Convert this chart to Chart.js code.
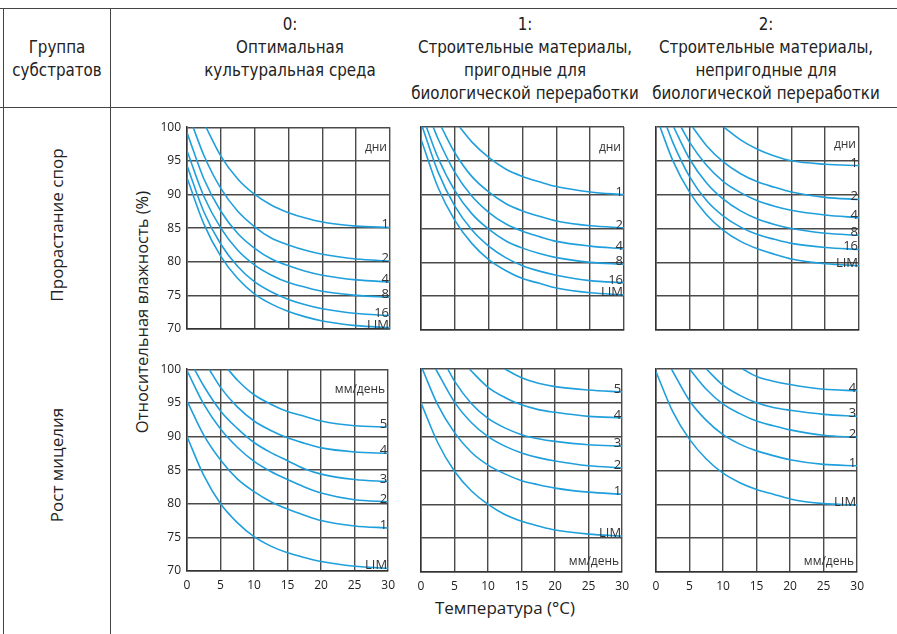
<!DOCTYPE html>
<html lang="ru">
<head>
<meta charset="utf-8">
<script src="https://cdn.jsdelivr.net/npm/chart.js@4.4.1/dist/chart.umd.min.js"></script>
<style>
  body { margin: 0; background: #fff; }
  #page { position: relative; width: 897px; height: 634px; overflow: hidden; background: #fff;
          font-family: 'Open Sans', 'Noto Sans', sans-serif; color: #222; }
  .hline { position: absolute; height: 0; border-top: 1px solid #444; }
  .vline { position: absolute; width: 0; border-left: 1px solid #444; }
  .txt { position: absolute; white-space: nowrap; transform: translate(-50%, -50%); }
  .head { font-family: 'DejaVu Sans Condensed', 'Liberation Sans Narrow', sans-serif; font-size: 16.8px; }
  .rot { transform: translate(-50%, -50%) rotate(-90deg); font-size: 17px; }
  canvas { position: absolute; }
</style>
</head>
<body>
<div id="page">
  <!-- table frame -->
  <div class="hline" style="left:0;top:8px;width:897px"></div>
  <div class="hline" style="left:0;top:107px;width:897px"></div>
  <div class="vline" style="left:3px;top:8px;height:626px"></div>
  <div class="vline" style="left:110px;top:8px;height:626px"></div>

  <!-- header -->
  <div class="txt head" style="left:57px;top:47px">Группа</div>
  <div class="txt head" style="left:57px;top:70px">субстратов</div>

  <div class="txt head" style="left:290px;top:24px">0:</div>
  <div class="txt head" style="left:290px;top:47px">Оптимальная</div>
  <div class="txt head" style="left:290px;top:70px">культуральная среда</div>

  <div class="txt head" style="left:525px;top:24px">1:</div>
  <div class="txt head" style="left:525px;top:47px">Строительные материалы,</div>
  <div class="txt head" style="left:525px;top:70px">пригодные для</div>
  <div class="txt head" style="left:525px;top:93px">биологической переработки</div>

  <div class="txt head" style="left:766px;top:24px">2:</div>
  <div class="txt head" style="left:766px;top:47px">Строительные материалы,</div>
  <div class="txt head" style="left:766px;top:70px">непригодные для</div>
  <div class="txt head" style="left:766px;top:93px">биологической переработки</div>

  <!-- row and axis titles -->
  <div class="txt rot" style="left:56px;top:225px">Прорастание спор</div>
  <div class="txt rot" style="left:56px;top:465px">Рост мицелия</div>
  <div class="txt rot" style="left:141px;top:312px;font-size:16.5px">Относительная влажность (%)</div>
  <div class="txt" style="left:505px;top:607px;font-size:17px">Температура (°C)</div>

  <canvas id="c1" width="255" height="240"></canvas>
  <canvas id="c2" width="255" height="240"></canvas>
  <canvas id="c3" width="255" height="240"></canvas>
  <canvas id="c4" width="255" height="240"></canvas>
  <canvas id="c5" width="255" height="240"></canvas>
  <canvas id="c6" width="255" height="240"></canvas>
</div>

<script>
// Оси
const tempTicks = [0, 5, 10, 15, 20, 25, 30];
const humTicks = [70, 75, 80, 85, 90, 95, 100];

// Прорастание спор, группа 0 (дни)
const spore0Labels = ['1', '2', '4', '8', '16', 'LIM'];
const spore0Temp = [
    [2.8, 5, 7.5, 10, 12.5, 15, 17.5, 20, 25, 30],
    [0.9, 2.5, 5, 7.5, 10, 12.5, 15, 17.5, 20, 25, 30],
    [0, 2.5, 5, 7.5, 10, 12.5, 15, 17.5, 20, 25, 30],
    [0, 2.5, 5, 7.5, 10, 12.5, 15, 17.5, 20, 25, 30],
    [0, 2.5, 5, 7.5, 10, 12.5, 15, 17.5, 20, 25, 30],
    [0, 2.5, 5, 7.5, 10, 12.5, 15, 17.5, 20, 25, 30]
];
const spore0Hum = [
    [100, 95.7, 92.3, 90.0, 88.4, 87.3, 86.5, 85.9, 85.3, 85.1],
    [100, 95.8, 90.9, 87.5, 85.2, 83.5, 82.5, 81.7, 81.1, 80.4, 80.1],
    [99.2, 92.3, 87.5, 84.2, 82.0, 80.4, 79.4, 78.6, 78.0, 77.3, 77.0],
    [96.5, 89.7, 85.0, 81.7, 79.5, 78.0, 76.9, 76.2, 75.6, 75.0, 74.7],
    [94.3, 87.4, 82.6, 79.3, 77.0, 75.5, 74.4, 73.6, 73.0, 72.3, 72.0],
    [92.5, 85.6, 80.8, 77.5, 75.2, 73.7, 72.6, 71.8, 71.2, 70.5, 70.2]
];

// Прорастание спор, группа 1 (дни)
const spore1Labels = ['1', '2', '4', '8', '16', 'LIM'];
const spore1Temp = [
    [5.7, 7.5, 10, 12.5, 15, 17.5, 20, 25, 30],
    [3.0, 5, 7.5, 10, 12.5, 15, 17.5, 20, 25, 30],
    [1.8, 2.5, 5, 7.5, 10, 12.5, 15, 17.5, 20, 25, 30],
    [0.8, 2.5, 5, 7.5, 10, 12.5, 15, 17.5, 20, 25, 30],
    [0.2, 2.5, 5, 7.5, 10, 12.5, 15, 17.5, 20, 25, 30],
    [0, 2.5, 5, 7.5, 10, 12.5, 15, 17.5, 20, 25, 30]
];
const spore1Hum = [
    [100, 97.8, 95.5, 93.8, 92.7, 91.9, 91.2, 90.4, 90.0],
    [100, 96.2, 92.7, 90.4, 88.7, 87.6, 86.8, 86.1, 85.4, 85.1],
    [100, 98.3, 93.3, 89.8, 87.4, 85.7, 84.6, 83.8, 83.1, 82.4, 82.0],
    [100, 95.5, 90.6, 87.2, 84.9, 83.2, 82.1, 81.3, 80.7, 80.0, 79.7],
    [100, 93.4, 88.3, 84.8, 82.4, 80.7, 79.5, 78.7, 78.1, 77.3, 77.0],
    [98.2, 91.1, 86.2, 82.8, 80.4, 78.8, 77.6, 76.9, 76.2, 75.5, 75.2]
];

// Прорастание спор, группа 2 (дни)
const spore2Labels = ['1', '2', '4', '8', '16', 'LIM'];
const spore2Temp = [
    [10, 12.5, 15, 17.5, 20, 25, 30],
    [5.4, 7.5, 10, 12.5, 15, 17.5, 20, 25, 30],
    [3.7, 5, 7.5, 10, 12.5, 15, 17.5, 20, 25, 30],
    [2.6, 5, 7.5, 10, 12.5, 15, 17.5, 20, 25, 30],
    [1.6, 2.5, 5, 7.5, 10, 12.5, 15, 17.5, 20, 25, 30],
    [0.6, 2.5, 5, 7.5, 10, 12.5, 15, 17.5, 20, 25, 30]
];
const spore2Hum = [
    [100, 98.1, 96.7, 95.7, 95.0, 94.5, 94.3],
    [100, 97.2, 94.8, 93.1, 91.9, 91.1, 90.4, 89.6, 89.3],
    [100, 97.7, 94.3, 91.9, 90.3, 89.1, 88.3, 87.7, 87.0, 86.6],
    [100, 95.2, 91.7, 89.3, 87.6, 86.4, 85.6, 85.0, 84.3, 84.0],
    [100, 97.7, 92.6, 89.1, 86.8, 85.2, 84.1, 83.4, 82.8, 82.2, 81.9],
    [100, 95.0, 90.3, 87.0, 84.7, 83.1, 82.0, 81.2, 80.5, 79.8, 79.5]
];

// Рост мицелия, группа 0 (мм/день)
const myc0Labels = ['5', '4', '3', '2', '1', 'LIM'];
const myc0Temp = [
    [6.1, 7.5, 10, 12.5, 15, 17.5, 20, 25, 30],
    [3.3, 5, 7.5, 10, 12.5, 15, 17.5, 20, 25, 30],
    [1.1, 2.5, 5, 7.5, 10, 12.5, 15, 17.5, 20, 25, 30],
    [0, 2.5, 5, 7.5, 10, 12.5, 15, 17.5, 20, 25, 30],
    [0, 2.5, 5, 7.5, 10, 12.5, 15, 17.5, 20, 25, 30],
    [0, 2.5, 5, 7.5, 10, 12.5, 15, 17.5, 20, 25, 30]
];
const myc0Hum = [
    [100, 98.4, 96.2, 94.8, 93.7, 93.0, 92.3, 91.6, 91.4],
    [100, 97.3, 94.4, 92.3, 90.9, 89.8, 89.0, 88.3, 87.7, 87.5],
    [100, 97.5, 93.8, 91.2, 89.1, 87.6, 86.4, 85.2, 84.4, 83.6, 83.3],
    [99.8, 94.8, 91.1, 88.4, 86.3, 84.8, 83.6, 82.5, 81.6, 80.6, 80.3],
    [95.3, 90.2, 86.5, 83.7, 81.8, 80.3, 79.2, 78.3, 77.5, 76.7, 76.4],
    [90.0, 84.2, 80.0, 77.2, 75.1, 73.7, 72.7, 72.0, 71.4, 70.7, 70.4]
];

// Рост мицелия, группа 1 (мм/день)
const myc1Labels = ['5', '4', '3', '2', '1', 'LIM'];
const myc1Temp = [
    [12.5, 15, 17.5, 20, 25, 30],
    [7.2, 10, 12.5, 15, 17.5, 20, 25, 30],
    [4.0, 5, 7.5, 10, 12.5, 15, 17.5, 20, 25, 30],
    [2.2, 5, 7.5, 10, 12.5, 15, 17.5, 20, 25, 30],
    [0.2, 2.5, 5, 7.5, 10, 12.5, 15, 17.5, 20, 25, 30],
    [0, 2.5, 5, 7.5, 10, 12.5, 15, 17.5, 20, 25, 30]
];
const myc1Hum = [
    [100, 98.7, 97.9, 97.4, 96.9, 96.6],
    [100, 97.3, 95.8, 94.7, 94.0, 93.6, 93.0, 92.8],
    [100, 98.2, 94.9, 92.7, 91.3, 90.3, 89.7, 89.3, 88.8, 88.6],
    [100, 95.1, 92.1, 90.0, 88.6, 87.6, 86.9, 86.4, 85.7, 85.4],
    [100, 94.7, 90.6, 87.7, 85.8, 84.5, 83.5, 82.9, 82.4, 81.8, 81.5],
    [95.0, 89.1, 84.9, 82.0, 80.0, 78.5, 77.5, 76.8, 76.2, 75.6, 75.3]
];

// Рост мицелия, группа 2 (мм/день)
const myc2Labels = ['4', '3', '2', '1', 'LIM'];
const myc2Temp = [
    [12.9, 15, 17.5, 20, 25, 30],
    [7.5, 10, 12.5, 15, 17.5, 20, 25, 30],
    [5.0, 7.5, 10, 12.5, 15, 17.5, 20, 25, 30],
    [2.3, 5, 7.5, 10, 12.5, 15, 17.5, 20, 25, 30],
    [0, 2.5, 5, 7.5, 10, 12.5, 15, 17.5, 20, 25, 30]
];
const myc2Hum = [
    [100, 98.9, 98.2, 97.7, 97.0, 96.8],
    [100, 97.6, 96.1, 95.0, 94.3, 93.9, 93.3, 93.0],
    [100, 97.0, 94.8, 93.4, 92.3, 91.6, 91.0, 90.2, 89.9],
    [100, 95.3, 92.4, 90.3, 88.9, 87.9, 87.2, 86.6, 85.9, 85.7],
    [99.6, 93.7, 89.6, 86.7, 84.6, 83.2, 82.2, 81.5, 80.8, 80.1, 79.9]
];

const CURVE_COLOR = '#1f9fdc';
const GRID_COLOR = '#4a4a4a';

// Подписи кривых и единиц измерения
const curveLabelPlugin = {
    id: 'curveLabels',
    afterDatasetsDraw(chart, args, opts) {
        const { ctx, chartArea, scales } = chart;
        ctx.save();
        ctx.font = '13px "Open Sans", sans-serif';
        ctx.fillStyle = '#333';
        ctx.textAlign = 'right';
        ctx.textBaseline = 'alphabetic';
        chart.data.datasets.forEach(ds => {
            const last = ds.data[ds.data.length - 1];
            ctx.fillText(ds.label, chartArea.right - 1, scales.y.getPixelForValue(last.y) + 1);
        });
        if (opts.unit) {
            ctx.font = '12px "Open Sans", sans-serif';
            ctx.textBaseline = 'middle';
            ctx.fillText(opts.unit, chartArea.right - 3, scales.y.getPixelForValue(opts.unitAt));
        }
        ctx.restore();
    }
};

const panels = [
    { id: 'c1', labels: spore0Labels, temp: spore0Temp, hum: spore0Hum, unit: 'дни', unitAt: 97, left: 187, top: 127, showY: true, showX: false },
    { id: 'c2', labels: spore1Labels, temp: spore1Temp, hum: spore1Hum, unit: 'дни', unitAt: 97, left: 421, top: 127, showY: false, showX: false },
    { id: 'c3', labels: spore2Labels, temp: spore2Temp, hum: spore2Hum, unit: 'дни', unitAt: 97.4, left: 656, top: 127, showY: false, showX: false },
    { id: 'c4', labels: myc0Labels, temp: myc0Temp, hum: myc0Hum, unit: 'мм/день', unitAt: 97, left: 187, top: 369, showY: true, showX: true },
    { id: 'c5', labels: myc1Labels, temp: myc1Temp, hum: myc1Hum, unit: 'мм/день', unitAt: 71.5, left: 421, top: 369, showY: false, showX: true },
    { id: 'c6', labels: myc2Labels, temp: myc2Temp, hum: myc2Hum, unit: 'мм/день', unitAt: 71.5, left: 656, top: 369, showY: false, showX: true }
];

const tickFont = { family: "'Open Sans', 'Noto Sans', sans-serif", size: 12 };

panels.forEach(p => {
    const canvas = document.getElementById(p.id);

    const datasets = p.labels.map((name, i) => ({
        label: name,
        data: p.temp[i].map((t, k) => ({ x: t, y: p.hum[i][k] })),
        borderColor: CURVE_COLOR,
        borderWidth: 1.6,
        pointRadius: 0,
        fill: false,
        cubicInterpolationMode: 'monotone'
    }));

    const chart = new Chart(canvas, {
        type: 'line',
        data: { datasets: datasets },
        options: {
            responsive: false,
            animation: false,
            events: [],
            layout: { padding: { top: 12, right: 12, left: 0, bottom: 0 } },
            plugins: {
                legend: { display: false },
                tooltip: { enabled: false },
                curveLabels: { unit: p.unit, unitAt: p.unitAt }
            },
            scales: {
                x: {
                    type: 'linear',
                    min: 0,
                    max: 30,
                    afterBuildTicks: s => { s.ticks = tempTicks.map(v => ({ value: v })); },
                    afterFit: s => { s.height = 25; },
                    grid: { color: GRID_COLOR, lineWidth: 1.4, drawTicks: false },
                    border: { color: '#333', width: 1.5 },
                    ticks: { display: p.showX, padding: 7, font: tickFont, color: '#222', maxRotation: 0 }
                },
                y: {
                    type: 'linear',
                    min: 70,
                    max: 100,
                    afterBuildTicks: s => { s.ticks = humTicks.map(v => ({ value: v })); },
                    afterFit: s => { s.width = 40; },
                    grid: { color: GRID_COLOR, lineWidth: 1.4, drawTicks: false },
                    border: { color: '#333', width: 1.5 },
                    ticks: { display: p.showY, padding: 6, font: tickFont, color: '#222' }
                }
            }
        },
        plugins: [curveLabelPlugin]
    });

    // ставим canvas так, чтобы область графика попала точно на место панели
    canvas.style.left = (p.left - chart.chartArea.left) + 'px';
    canvas.style.top = (p.top - chart.chartArea.top) + 'px';
});
</script>
</body>
</html>
